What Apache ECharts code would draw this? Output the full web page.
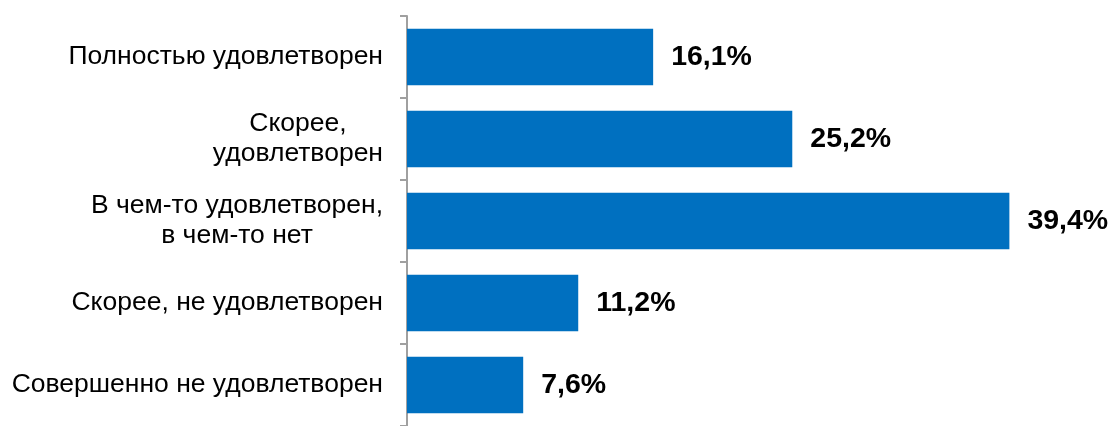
<!DOCTYPE html>
<html><head><meta charset="utf-8">
<script src="https://cdn.jsdelivr.net/npm/echarts@6/dist/echarts.min.js"></script>
<style>html,body{margin:0;padding:0;background:#fff}#c{width:1109px;height:426px}</style>
</head><body><div id="c"></div>
<script>
const categories = ["Полностью удовлетворен","Скорее,\nудовлетворен","В чем-то удовлетворен,\nв чем-то нет","Скорее, не удовлетворен","Совершенно не удовлетворен"];
const values = [16.1, 25.2, 39.4, 11.2, 7.6];
const font = 'Liberation Sans, Arial';
const chart = echarts.init(document.getElementById('c'));
chart.setOption({
  animation:false,
  grid:{left:407, top:16, width:688, height:415, containLabel:false},
  xAxis:{type:'value', min:0, max:45, show:false},
  yAxis:{type:'category', inverse:true, data:categories,
    axisLine:{show:true, lineStyle:{color:'#a0a0a0', width:2}},
    axisTick:{show:true, inside:false, length:7, lineStyle:{color:'#a0a0a0', width:2}},
    axisLabel:{margin:24, color:'#000', fontFamily:font, fontSize:26.5, lineHeight:30, align:'right',
      formatter:v=>v.split('\n').map(s=>'{c|'+s+'}').join('\n'),
      rich:{c:{align:'center', color:'#000', fontFamily:font, fontSize:26.5, lineHeight:30}}
    }
  },
  series:[{type:'bar', data:values, barCategoryGap:'31%',
    itemStyle:{color:'#0070c0'},
    label:{show:true, position:'right', distance:18, color:'#000', fontWeight:'bold', fontFamily:font, fontSize:28.5,
      formatter:p=>p.value.toFixed(1).replace('.',',')+'%'}
  }]
});
</script></body></html>
